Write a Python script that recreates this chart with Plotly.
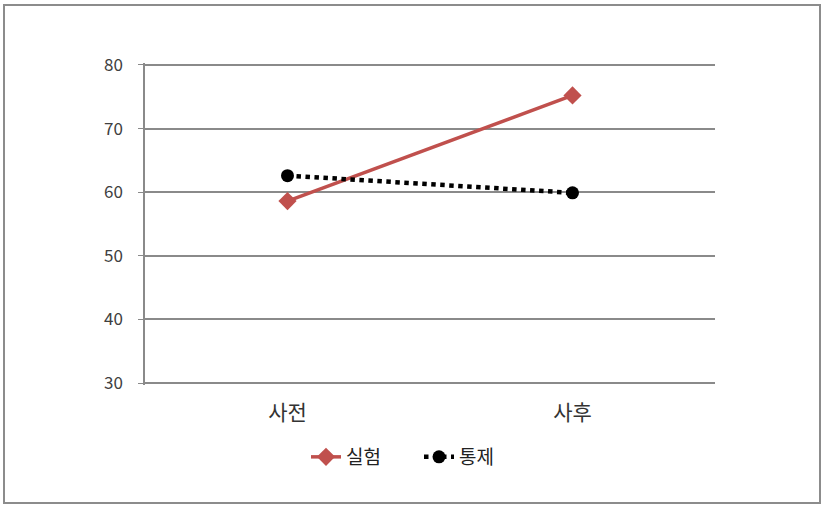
import plotly.graph_objects as go

categories = ["사전", "사후"]
experiment = [58.6, 75.2]
control = [62.6, 59.9]
y_ticks = [30, 40, 50, 60, 70, 80]

W, H = 827, 508
L, R, T, B = 145, 112, 63, 123
pw, ph = W - L - R, H - T - B

fig = go.Figure()
fig.add_trace(go.Scatter(
    x=[0, 1], y=experiment, name="실험", mode="lines+markers",
    line=dict(color="#C0504D", width=3.5),
    marker=dict(symbol="diamond", size=14, color="#C0504D"),
))
fig.add_trace(go.Scatter(
    x=[0, 1], y=control, name="통제", mode="lines+markers",
    line=dict(color="#000000", width=4.5, dash="dot"),
    marker=dict(symbol="circle", size=13, color="#000000"),
))

def px_to_paper_x(px):
    return (px - L) / pw

def px_to_paper_y(py):
    return (H - B - py) / ph

fig.add_shape(type="rect", xref="paper", yref="paper",
              x0=px_to_paper_x(4), x1=px_to_paper_x(820),
              y0=px_to_paper_y(503), y1=px_to_paper_y(5),
              line=dict(color="#8c8c8c", width=2), fillcolor="rgba(0,0,0,0)",
              layer="below")

fig.update_layout(
    width=W, height=H,
    margin=dict(l=L, r=R, t=T, b=B),
    paper_bgcolor="white", plot_bgcolor="white",
    font=dict(family="Noto Sans CJK KR, sans-serif", color="#404040"),
    showlegend=True,
    legend=dict(orientation="h", x=px_to_paper_x(306), xanchor="left",
                y=px_to_paper_y(457), yanchor="middle",
                font=dict(size=19, color="#222222"), itemwidth=30,
                entrywidth=68, entrywidthmode="pixels"),
    xaxis=dict(
        range=[-0.5, 1.5], tickmode="array", tickvals=[0, 1], ticktext=categories,
        showgrid=False, zeroline=False, showline=False,
        tickfont=dict(size=21, color="#333333"), ticks="",
        ticklabelstandoff=13,
    ),
    yaxis=dict(
        range=[29.7, 80.3], tickmode="array", tickvals=y_ticks,
        showgrid=True, gridcolor="#8a8a8a", gridwidth=1.5,
        zeroline=False, showline=True, linecolor="#8a8a8a", linewidth=1.5,
        ticks="outside", ticklen=5, tickcolor="#8a8a8a",
        tickfont=dict(size=17, color="#404040"),
        ticklabelstandoff=12,
    ),
)

fig.write_html("out.html", config={"displayModeBar": False},
               post_script="document.body.style.margin='0';")
